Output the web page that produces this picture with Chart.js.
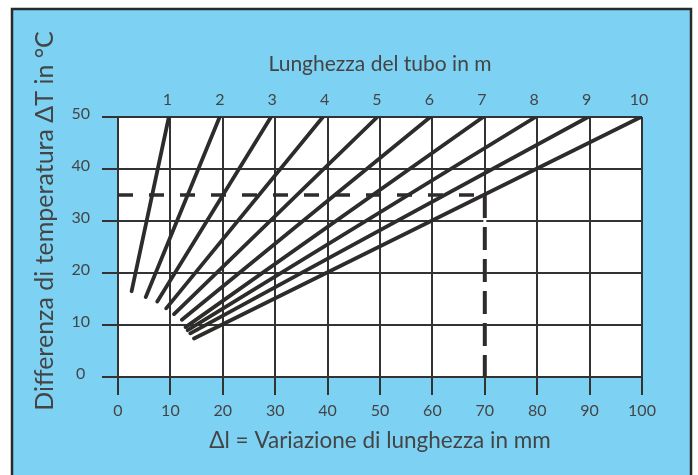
<!DOCTYPE html>
<html>
<head>
<meta charset="utf-8">
<script src="https://cdn.jsdelivr.net/npm/chart.js@4/dist/chart.umd.min.js"></script>
<style>
  html, body { margin: 0; padding: 0; background: #fff; }
  #wrap { width: 698px; height: 475px; }
</style>
</head>
<body>
<div id="wrap"><canvas id="chart" width="698" height="475"></canvas></div>
<script>
// lunghezza del tubo (m) per ogni retta
const tubeLengths = [1, 2, 3, 4, 5, 6, 7, 8, 9, 10];
// punto iniziale di ogni retta (Δl in mm, ΔT in °C)
const startDl = [2.6, 5.3, 7.5, 9.2, 10.7, 12.2, 12.9, 13.3, 13.8, 14.5];
const startDT = [16.5, 15.4, 14.5, 13.2, 12.1, 11.0, 9.6, 9.0, 8.4, 7.4];
// punto finale (in alto, ΔT = 50)
const endDl = [9.7, 19.4, 29.2, 39.1, 49.5, 59.6, 69.7, 79.7, 89.7, 99.8];
const endDT = [50, 50, 50, 50, 50, 50, 50, 50, 50, 50];
// esempio tratteggiato
const exampleDl = [0, 70, 70];
const exampleDT = [35, 35, 0];

const xTicks = [0, 10, 20, 30, 40, 50, 60, 70, 80, 90, 100];
const yTicks = [0, 10, 20, 30, 40, 50];

const BLUE = '#7dd2f4';
const INK = '#2e2c2b';
const TEXT = '#444444';
const FONT = "Lato, 'Open Sans', sans-serif";
const yTitle = 'Differenza di temperatura ΔT in °C';

const tubeSets = tubeLengths.map((L, i) => ({
    label: L + ' m',
    data: [{ x: startDl[i], y: startDT[i] }, { x: endDl[i], y: endDT[i] }],
    borderColor: INK,
    borderWidth: 3.8,
    borderCapStyle: 'round',
    pointRadius: 0,
    showLine: true,
    fill: false
}));

const dashH = {
    label: 'esempio',
    data: [{ x: exampleDl[0], y: exampleDT[0] }, { x: exampleDl[1], y: exampleDT[1] }],
    borderColor: INK,
    borderWidth: 3.5,
    borderDash: [15, 16],
    pointRadius: 0,
    showLine: true
};
const dashV = {
    label: 'esempio v',
    data: [{ x: exampleDl[1], y: exampleDT[1] }, { x: exampleDl[2], y: exampleDT[2] }],
    borderColor: INK,
    borderWidth: 4,
    borderDash: [23, 9],
    pointRadius: 0,
    showLine: true
};

// sfondo azzurro, cornice e area bianca
const panelPlugin = {
    id: 'panel',
    beforeDraw(chart) {
        const { ctx, chartArea: a } = chart;
        ctx.save();
        ctx.fillStyle = '#ffffff';
        ctx.fillRect(0, 0, chart.width, chart.height);
        ctx.fillStyle = BLUE;
        ctx.fillRect(12, 9, 679, 470);
        ctx.strokeStyle = '#2a2a2a';
        ctx.lineWidth = 2.5;
        ctx.strokeRect(12, 9, 679, 470);
        ctx.fillStyle = '#ffffff';
        ctx.fillRect(a.left, a.top, a.right - a.left, a.bottom - a.top);
        ctx.restore();
    },
    // la griglia a 70 mm sotto il tratteggio non c'è
    beforeDatasetsDraw(chart) {
        const { ctx, scales: { x, y } } = chart;
        const px = x.getPixelForValue(exampleDl[1]);
        const top = y.getPixelForValue(exampleDT[1]);
        const bot = y.getPixelForValue(0);
        ctx.save();
        ctx.fillStyle = '#ffffff';
        ctx.fillRect(px - 1.5, top, 3, bot - top - 1);
        ctx.restore();
    },
    afterDraw(chart) {
        const { ctx } = chart;
        ctx.save();
        ctx.translate(45, 221);
        ctx.rotate(-Math.PI / 2);
        ctx.fillStyle = TEXT;
        ctx.font = '25px ' + FONT;
        ctx.textAlign = 'center';
        ctx.textBaseline = 'middle';
        ctx.fillText(yTitle, 0, 0);
        ctx.restore();
    }
};

new Chart(document.getElementById('chart').getContext('2d'), {
    type: 'scatter',
    data: { datasets: [...tubeSets, dashH, dashV] },
    options: {
        responsive: false,
        animation: false,
        layout: { padding: { left: 14, top: 10, right: 56, bottom: 0 } },
        plugins: {
            legend: { display: false },
            tooltip: { enabled: false }
        },
        scales: {
            x: {
                type: 'linear',
                position: 'bottom',
                min: 0, max: 100,
                afterBuildTicks: s => { s.ticks = xTicks.map(v => ({ value: v })); },
                afterFit: s => { s.height = 98; },
                grid: { color: '#333', lineWidth: 2, tickLength: 18 },
                border: { color: '#333', width: 2 },
                ticks: {
                    color: TEXT,
                    font: { family: FONT, size: 16 },
                    padding: 6,
                    maxRotation: 0
                },
                title: {
                    display: true,
                    text: 'Δl = Variazione di lunghezza in mm',
                    color: TEXT,
                    font: { family: FONT, size: 22.5 },
                    padding: { bottom: 21 }
                }
            },
            xTop: {
                type: 'linear',
                position: 'top',
                min: 0, max: 100,
                afterBuildTicks: s => { s.ticks = tubeLengths.map(L => ({ value: L * 10 })); },
                afterFit: s => { s.height = 107; },
                grid: { display: false },
                border: { display: false },
                ticks: {
                    color: TEXT,
                    font: { family: FONT, size: 16 },
                    padding: 0,
                    labelOffset: -3,
                    maxRotation: 0,
                    callback: v => String(v / 10)
                },
                title: {
                    display: true,
                    text: 'Lunghezza del tubo in m',
                    color: TEXT,
                    font: { family: FONT, size: 21 },
                    padding: { top: 42 }
                }
            },
            y: {
                type: 'linear',
                position: 'left',
                min: 0, max: 50,
                afterBuildTicks: s => { s.ticks = yTicks.map(v => ({ value: v })); },
                afterFit: s => { s.width = 104; },
                grid: { color: '#333', lineWidth: 2, tickLength: 16 },
                border: { color: '#333', width: 2 },
                ticks: {
                    color: TEXT,
                    font: { family: FONT, size: 16 },
                    padding: 12,
                    crossAlign: 'center',
                    labelOffset: -3
                },
                title: { display: false }
            }
        }
    },
    plugins: [panelPlugin]
});
</script>
</body>
</html>
